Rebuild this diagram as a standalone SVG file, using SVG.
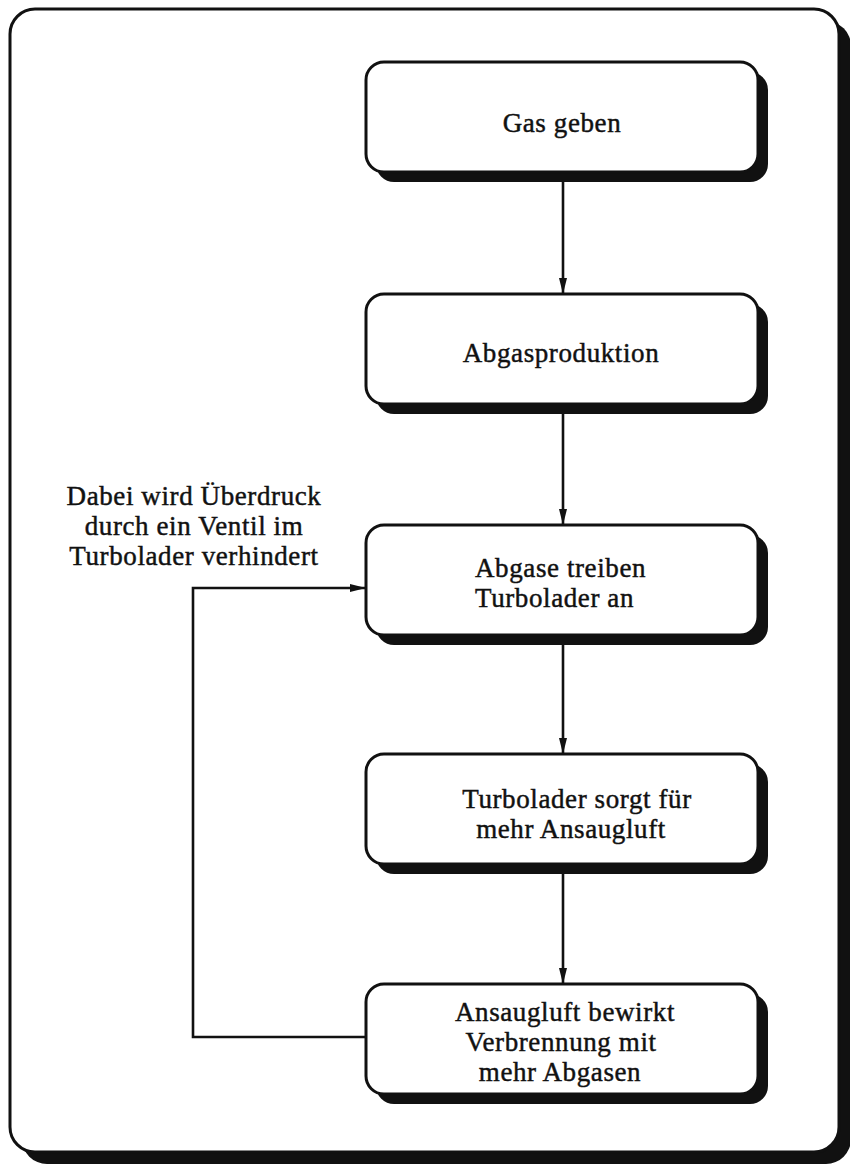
<svg xmlns="http://www.w3.org/2000/svg" width="850" height="1170" viewBox="0 0 850 1170">
  <style>
    .shadow { fill: #111; }
    .box { fill: #fff; stroke: #111; stroke-width: 3; }
    .label { font-family: "Liberation Serif", "Times New Roman", serif; font-size: 27px; letter-spacing: 0.6px; fill: #111; stroke: #111; stroke-width: 0.45; }
    .mid { text-anchor: middle; }
    .edge { fill: none; stroke: #111; stroke-width: 2.6; }
  </style>
  <defs>
    <marker id="arrow" viewBox="0 0 16 10" refX="16" refY="5" markerUnits="userSpaceOnUse" markerWidth="16" markerHeight="10" orient="auto">
      <path d="M0,1 L16,5 L0,9 Z" fill="#111"/>
    </marker>
  </defs>

  <rect width="850" height="1170" fill="#fff"/>

  <!-- page frame with drop shadow -->
  <g id="frame">
    <rect x="22" y="21" width="829" height="1143" rx="25" class="shadow"/>
    <rect x="10" y="9" width="829" height="1143" rx="25" class="box"/>
  </g>

  <!-- connectors -->
  <g id="connectors">
    <line x1="563" y1="174" x2="563" y2="294" class="edge" marker-end="url(#arrow)"/>
    <line x1="563" y1="405" x2="563" y2="525" class="edge" marker-end="url(#arrow)"/>
    <line x1="563" y1="636" x2="563" y2="754" class="edge" marker-end="url(#arrow)"/>
    <line x1="563" y1="865" x2="563" y2="984" class="edge" marker-end="url(#arrow)"/>
    <polyline points="366,1037 193,1037 193,588 366,588" class="edge" marker-end="url(#arrow)"/>
  </g>

  <g id="node-gas">
    <rect x="376" y="72" width="392" height="110" rx="18" class="shadow"/>
    <rect x="366" y="62" width="392" height="110" rx="18" class="box"/>
    <text x="562" y="132" class="label mid">Gas geben</text>
  </g>

  <g id="node-abgasproduktion">
    <rect x="376" y="304" width="392" height="110" rx="18" class="shadow"/>
    <rect x="366" y="294" width="392" height="110" rx="18" class="box"/>
    <text x="561" y="362" class="label mid">Abgasproduktion</text>
  </g>

  <g id="node-turbolader-antrieb">
    <rect x="376" y="535" width="392" height="110" rx="18" class="shadow"/>
    <rect x="366" y="525" width="392" height="110" rx="18" class="box"/>
    <text x="475" y="577" class="label">Abgase treiben</text>
    <text x="475" y="607" class="label">Turbolader an</text>
  </g>

  <g id="node-ansaugluft">
    <rect x="376" y="764" width="392" height="110" rx="18" class="shadow"/>
    <rect x="366" y="754" width="392" height="110" rx="18" class="box"/>
    <text x="577" y="808" class="label mid">Turbolader sorgt für</text>
    <text x="571" y="838" class="label mid">mehr Ansaugluft</text>
  </g>

  <g id="node-verbrennung">
    <rect x="376" y="994" width="392" height="110" rx="18" class="shadow"/>
    <rect x="366" y="984" width="392" height="110" rx="18" class="box"/>
    <text x="565" y="1021" class="label mid">Ansaugluft bewirkt</text>
    <text x="561" y="1051" class="label mid">Verbrennung mit</text>
    <text x="560" y="1081" class="label mid">mehr Abgasen</text>
  </g>

  <g id="note-ueberdruck">
    <text x="194" y="505" class="label mid">Dabei wird Überdruck</text>
    <text x="194" y="535" class="label mid">durch ein Ventil im</text>
    <text x="194" y="565" class="label mid">Turbolader verhindert</text>
  </g>
</svg>
